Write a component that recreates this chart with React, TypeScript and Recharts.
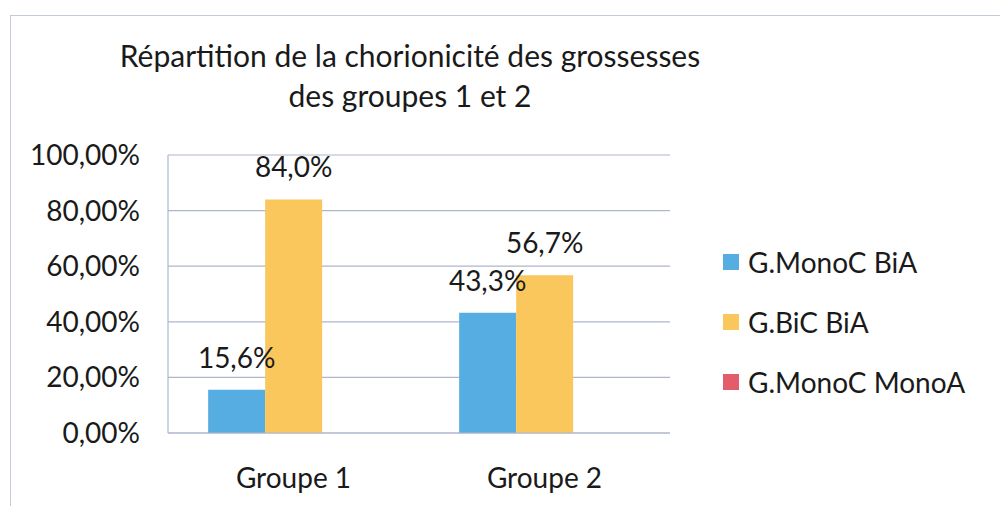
import React from 'react';
import { BarChart, Bar, XAxis, YAxis, CartesianGrid, Legend, LabelList } from 'recharts';

const categories = ['Groupe 1', 'Groupe 2'];
const monoCBiA = [15.6, 43.3];
const biCBiA = [84.0, 56.7];
const monoCMonoA = [0, 0];
const yTicks = [0, 20, 40, 60, 80, 100];
const seriesNames = ['G.MonoC BiA', 'G.BiC BiA', 'G.MonoC MonoA'];
const colors = ['#56ADE2', '#FAC75C', '#E25C6C'];

const data = categories.map((c, i) => ({
  name: c,
  a: monoCBiA[i],
  b: biCBiA[i],
  c: monoCMonoA[i],
}));

const FONT = 'Lato, "Open Sans", sans-serif';
const GRID = '#AEB6CC';
const FS = 28;

const fmtTick = (v: number) => v.toFixed(2).replace('.', ',') + '%';
const fmtLabel = (v: number) => v.toFixed(1).replace('.', ',') + '%';

const LegendContent = () => (
  <div style={{ fontFamily: FONT, fontSize: FS, color: '#1a1a1a' }}>
    {seriesNames.map((n, i) => (
      <div key={n} style={{ display: 'flex', alignItems: 'center', height: 60 }}>
        <div style={{ width: 16, height: 16, background: colors[i], marginRight: 9 }} />
        <span>{n}</span>
      </div>
    ))}
  </div>
);

export default function App() {
  return (
    <div style={{ position: 'absolute', left: 0, top: 0, width: 1000, height: 506, background: '#fff', overflow: 'hidden' }}>
      <div style={{ position: 'absolute', left: 10, top: 15, right: 0, bottom: 0, borderLeft: '1px solid #C3CADB', borderTop: '1px solid #C3CADB' }} />
      <div
        style={{
          position: 'absolute',
          left: 60,
          width: 700,
          top: 35,
          textAlign: 'center',
          fontFamily: FONT,
          fontSize: 30,
          lineHeight: '40px',
          color: '#1a1a1a',
        }}
      >
        Répartition de la chorionicité des grossesses
        <br />
        des groupes 1 et 2
      </div>
      <BarChart
        width={1000}
        height={506}
        data={data}
        margin={{ top: 155, right: 330, bottom: 43, left: 0 }}
        barCategoryGap="16%"
        barGap={0}
        style={{ position: 'absolute', left: 0, top: 0 }}
      >
        <CartesianGrid vertical={false} stroke={GRID} strokeWidth={1.2} />
        <XAxis
          dataKey="name"
          axisLine={{ stroke: GRID, strokeWidth: 1.2 }}
          tickLine={false}
          tickSize={0}
          tickMargin={35}
          tick={{ fontFamily: FONT, fontSize: FS, fill: '#1a1a1a' }}
        />
        <YAxis
          width={168}
          domain={[0, 100]}
          ticks={yTicks}
          tickFormatter={fmtTick}
          axisLine={{ stroke: GRID, strokeWidth: 1.2 }}
          tickLine={false}
          tickSize={0}
          tickMargin={28}
          tick={{ fontFamily: FONT, fontSize: FS, fill: '#1a1a1a' }}
        />
        <Legend
          layout="horizontal"
          verticalAlign="middle"
          align="center"
          content={<LegendContent />}
          wrapperStyle={{ position: 'absolute', left: 723, top: 232, width: 280 }}
        />
        <Bar dataKey="a" name={seriesNames[0]} fill={colors[0]} isAnimationActive={false}>
          <LabelList dataKey="a" position="top" offset={22} formatter={fmtLabel} style={{ fontFamily: FONT, fontSize: FS, fill: '#1a1a1a' }} />
        </Bar>
        <Bar dataKey="b" name={seriesNames[1]} fill={colors[1]} isAnimationActive={false}>
          <LabelList dataKey="b" position="top" offset={22} formatter={fmtLabel} style={{ fontFamily: FONT, fontSize: FS, fill: '#1a1a1a' }} />
        </Bar>
        <Bar dataKey="c" name={seriesNames[2]} fill={colors[2]} isAnimationActive={false} />
      </BarChart>
    </div>
  );
}
